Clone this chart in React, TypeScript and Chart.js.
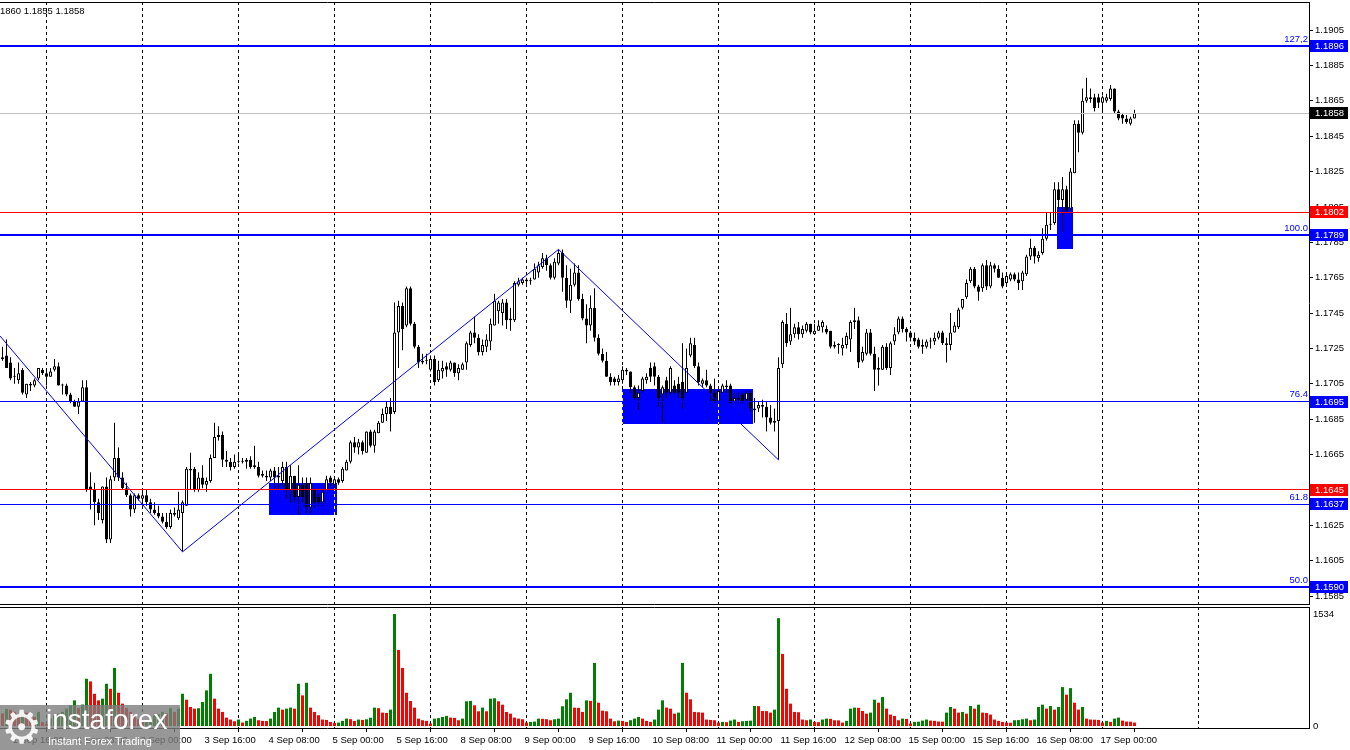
import React, { useEffect, useRef } from "react";
import { Chart, registerables } from "chart.js";

Chart.register(...registerables);

// ---------------- DATA (EURUSD H1, 1 Sep 13:00 .. 17 Sep 08:00) ----------------
const OPEN = [1.1719,1.1721,1.1717,1.1709,1.1707,1.1713,1.1699,1.1705,1.1704,1.1708,
1.1713,1.1711,1.1709,1.1713,1.1715,1.1704,1.1704,1.1699,1.1695,1.1692,
1.1695,1.1703,1.1647,1.1645,1.1638,1.1628,1.1647,1.1617,1.1652,1.1663,
1.1652,1.1646,1.1642,1.1634,1.1642,1.1640,1.1642,1.1638,1.1634,1.1632,
1.1630,1.1627,1.1624,1.1632,1.1629,1.1632,1.1636,1.1656,1.1657,1.1645,
1.1652,1.1648,1.1650,1.1663,1.1675,1.1676,1.1662,1.1661,1.1658,1.1661,
1.1661,1.1661,1.1662,1.1659,1.1658,1.1654,1.1653,1.1652,1.1656,1.1652,
1.1650,1.1658,1.1645,1.1653,1.1641,1.1648,1.1649,1.1635,1.1645,1.1641,
1.1638,1.1645,1.1652,1.1648,1.1651,1.1650,1.1656,1.1661,1.1672,1.1669,
1.1672,1.1666,1.1678,1.1670,1.1677,1.1683,1.1688,1.1692,1.1689,1.1734,
1.1749,1.1738,1.1759,1.1739,1.1726,1.1717,1.1718,1.1713,1.1719,1.1707,
1.1712,1.1715,1.1713,1.1717,1.1711,1.1713,1.1717,1.1727,1.1734,1.1731,
1.1723,1.1726,1.1729,1.1738,1.1746,1.1745,1.1751,1.1741,1.1741,1.1761,
1.1762,1.1764,1.1763,1.1764,1.1768,1.1771,1.1776,1.1772,1.1765,1.1773,
1.1779,1.1765,1.1752,1.1761,1.1768,1.1753,1.1742,1.1738,1.1748,1.1731,
1.1722,1.1718,1.1709,1.1708,1.1706,1.1707,1.1713,1.1712,1.1703,1.1697,
1.1701,1.1707,1.1714,1.1715,1.1709,1.1699,1.1707,1.1700,1.1704,1.1705,
1.1706,1.1700,1.1721,1.1727,1.1715,1.1705,1.1707,1.1704,1.1700,1.1695,
1.1700,1.1703,1.1704,1.1695,1.1697,1.1699,1.1696,1.1700,1.1690,1.1691,
1.1693,1.1692,1.1686,1.1684,1.1684,1.1716,1.1739,1.1729,1.1733,1.1737,
1.1733,1.1735,1.1739,1.1733,1.1735,1.1737,1.1736,1.1735,1.1726,1.1727,
1.1725,1.1727,1.1730,1.1740,1.1741,1.1718,1.1722,1.1734,1.1722,1.1713,
1.1713,1.1726,1.1714,1.1729,1.1734,1.1742,1.1736,1.1734,1.1731,1.1730,
1.1726,1.1726,1.1729,1.1729,1.1731,1.1734,1.1728,1.1727,1.1734,1.1737,
1.1748,1.1754,1.1763,1.1770,1.1760,1.1759,1.1772,1.1760,1.1772,1.1770,
1.1765,1.1762,1.1764,1.1767,1.1764,1.1763,1.1767,1.1777,1.1782,1.1776,
1.1779,1.1787,1.1795,1.1796,1.1815,1.1809,1.1815,1.1804,1.1824,1.1852,
1.1847,1.1865,1.1866,1.1867,1.1867,1.1864,1.1865,1.1866,1.1872,1.1859,
1.1857,1.1855,1.1852,1.1855];

const HIGH = [1.1726,1.1730,1.1720,1.1714,1.1717,1.1714,1.1705,1.1706,1.1708,1.1714,
1.1714,1.1714,1.1714,1.1719,1.1717,1.1705,1.1705,1.1700,1.1696,1.1697,
1.1707,1.1707,1.1655,1.1649,1.1640,1.1647,1.1652,1.1653,1.1683,1.1669,
1.1655,1.1649,1.1643,1.1643,1.1643,1.1645,1.1645,1.1640,1.1638,1.1636,
1.1632,1.1632,1.1634,1.1635,1.1644,1.1639,1.1658,1.1666,1.1658,1.1655,
1.1659,1.1652,1.1665,1.1683,1.1681,1.1678,1.1667,1.1663,1.1665,1.1665,
1.1663,1.1663,1.1664,1.1670,1.1661,1.1656,1.1656,1.1657,1.1658,1.1658,
1.1661,1.1661,1.1659,1.1653,1.1659,1.1652,1.1652,1.1652,1.1646,1.1643,
1.1645,1.1653,1.1653,1.1652,1.1652,1.1658,1.1662,1.1673,1.1675,1.1674,
1.1673,1.1678,1.1679,1.1679,1.1684,1.1691,1.1695,1.1697,1.1751,1.1752,
1.1751,1.1760,1.1760,1.1740,1.1727,1.1722,1.1722,1.1721,1.1721,1.1718,
1.1718,1.1717,1.1718,1.1717,1.1716,1.1717,1.1729,1.1735,1.1743,1.1733,
1.1730,1.1733,1.1742,1.1756,1.1752,1.1753,1.1753,1.1748,1.1763,1.1765,
1.1765,1.1765,1.1765,1.1773,1.1774,1.1779,1.1778,1.1773,1.1776,1.1781,
1.1781,1.1772,1.1770,1.1773,1.1772,1.1756,1.1750,1.1755,1.1759,1.1733,
1.1725,1.1723,1.1711,1.1709,1.1710,1.1715,1.1714,1.1712,1.1704,1.1704,
1.1709,1.1711,1.1717,1.1717,1.1710,1.1704,1.1709,1.1715,1.1707,1.1709,
1.1728,1.1725,1.1731,1.1731,1.1717,1.1708,1.1713,1.1705,1.1708,1.1703,
1.1705,1.1707,1.1705,1.1700,1.1700,1.1700,1.1701,1.1701,1.1697,1.1695,
1.1696,1.1695,1.1693,1.1691,1.1720,1.1741,1.1745,1.1748,1.1739,1.1740,
1.1738,1.1740,1.1739,1.1739,1.1741,1.1741,1.1738,1.1735,1.1729,1.1728,
1.1731,1.1734,1.1741,1.1748,1.1743,1.1726,1.1736,1.1736,1.1726,1.1720,
1.1727,1.1728,1.1729,1.1737,1.1743,1.1743,1.1737,1.1735,1.1734,1.1731,
1.1730,1.1730,1.1731,1.1734,1.1735,1.1735,1.1731,1.1745,1.1740,1.1748,
1.1753,1.1764,1.1771,1.1771,1.1761,1.1773,1.1775,1.1774,1.1773,1.1772,
1.1768,1.1768,1.1768,1.1768,1.1768,1.1769,1.1778,1.1787,1.1783,1.1780,
1.1793,1.1802,1.1802,1.1819,1.1819,1.1822,1.1817,1.1827,1.1854,1.1854,
1.1872,1.1878,1.1872,1.1869,1.1869,1.1868,1.1869,1.1874,1.1872,1.1860,
1.1858,1.1857,1.1856,1.1860];

const LOW = [1.1718,1.1714,1.1707,1.1705,1.1705,1.1699,1.1697,1.1701,1.1703,1.1707,
1.1710,1.1704,1.1709,1.1712,1.1704,1.1699,1.1698,1.1694,1.1692,1.1688,
1.1695,1.1644,1.1634,1.1625,1.1628,1.1626,1.1615,1.1615,1.1650,1.1650,
1.1645,1.1641,1.1630,1.1632,1.1639,1.1636,1.1636,1.1632,1.1631,1.1629,
1.1626,1.1623,1.1623,1.1630,1.1628,1.1610,1.1636,1.1645,1.1644,1.1644,
1.1646,1.1644,1.1649,1.1663,1.1673,1.1658,1.1658,1.1656,1.1657,1.1660,
1.1660,1.1657,1.1657,1.1657,1.1652,1.1652,1.1650,1.1650,1.1645,1.1645,
1.1647,1.1640,1.1638,1.1638,1.1631,1.1638,1.1632,1.1632,1.1635,1.1636,
1.1636,1.1645,1.1647,1.1646,1.1648,1.1649,1.1656,1.1660,1.1666,1.1665,
1.1665,1.1666,1.1669,1.1666,1.1677,1.1683,1.1684,1.1678,1.1688,1.1714,
1.1724,1.1737,1.1738,1.1725,1.1714,1.1716,1.1716,1.1712,1.1704,1.1706,
1.1708,1.1709,1.1712,1.1709,1.1707,1.1713,1.1713,1.1726,1.1728,1.1721,
1.1721,1.1723,1.1724,1.1738,1.1739,1.1738,1.1736,1.1735,1.1740,1.1760,
1.1761,1.1760,1.1761,1.1764,1.1765,1.1770,1.1769,1.1764,1.1764,1.1772,
1.1757,1.1748,1.1745,1.1760,1.1752,1.1741,1.1728,1.1735,1.1729,1.1721,
1.1717,1.1709,1.1704,1.1704,1.1704,1.1705,1.1710,1.1700,1.1696,1.1690,
1.1700,1.1705,1.1706,1.1704,1.1692,1.1683,1.1697,1.1699,1.1699,1.1697,
1.1691,1.1700,1.1720,1.1714,1.1704,1.1703,1.1703,1.1695,1.1694,1.1694,
1.1700,1.1700,1.1694,1.1694,1.1694,1.1694,1.1695,1.1689,1.1683,1.1689,
1.1686,1.1678,1.1682,1.1678,1.1662,1.1714,1.1726,1.1727,1.1731,1.1730,
1.1731,1.1734,1.1733,1.1733,1.1735,1.1734,1.1733,1.1725,1.1725,1.1722,
1.1721,1.1725,1.1723,1.1736,1.1714,1.1717,1.1721,1.1721,1.1701,1.1704,
1.1713,1.1713,1.1710,1.1727,1.1733,1.1734,1.1729,1.1729,1.1727,1.1725,
1.1722,1.1725,1.1725,1.1727,1.1730,1.1727,1.1717,1.1724,1.1734,1.1736,
1.1747,1.1753,1.1762,1.1759,1.1752,1.1757,1.1758,1.1759,1.1768,1.1765,
1.1759,1.1760,1.1763,1.1763,1.1758,1.1758,1.1766,1.1775,1.1773,1.1774,
1.1778,1.1786,1.1792,1.1795,1.1804,1.1791,1.1802,1.1803,1.1824,1.1836,
1.1846,1.1864,1.1864,1.1859,1.1861,1.1858,1.1864,1.1865,1.1858,1.1854,
1.1852,1.1852,1.1851,1.1855];

const CLOSE = [1.1720,1.1714,1.1708,1.1709,1.1711,1.1700,1.1705,1.1704,1.1707,1.1714,
1.1711,1.1709,1.1712,1.1715,1.1704,1.1704,1.1699,1.1695,1.1692,1.1695,
1.1703,1.1645,1.1645,1.1638,1.1632,1.1647,1.1617,1.1651,1.1663,1.1652,
1.1646,1.1642,1.1634,1.1642,1.1640,1.1642,1.1638,1.1634,1.1632,1.1630,
1.1627,1.1624,1.1632,1.1631,1.1634,1.1638,1.1657,1.1657,1.1645,1.1652,
1.1648,1.1650,1.1663,1.1675,1.1676,1.1662,1.1661,1.1658,1.1661,1.1661,
1.1661,1.1662,1.1658,1.1658,1.1653,1.1653,1.1652,1.1656,1.1652,1.1653,
1.1658,1.1645,1.1653,1.1641,1.1648,1.1641,1.1635,1.1649,1.1638,1.1638,
1.1644,1.1651,1.1649,1.1651,1.1649,1.1657,1.1661,1.1672,1.1669,1.1672,
1.1667,1.1678,1.1670,1.1678,1.1683,1.1688,1.1692,1.1688,1.1734,1.1749,
1.1736,1.1759,1.1739,1.1726,1.1717,1.1718,1.1718,1.1719,1.1706,1.1713,
1.1714,1.1713,1.1717,1.1711,1.1714,1.1716,1.1728,1.1734,1.1731,1.1723,
1.1727,1.1730,1.1739,1.1752,1.1751,1.1751,1.1741,1.1742,1.1762,1.1763,
1.1764,1.1763,1.1763,1.1770,1.1772,1.1776,1.1772,1.1765,1.1774,1.1779,
1.1765,1.1752,1.1761,1.1768,1.1753,1.1742,1.1738,1.1748,1.1731,1.1722,
1.1718,1.1709,1.1706,1.1706,1.1708,1.1713,1.1712,1.1703,1.1697,1.1700,
1.1708,1.1709,1.1709,1.1709,1.1697,1.1703,1.1700,1.1714,1.1700,1.1700,
1.1697,1.1714,1.1728,1.1715,1.1706,1.1707,1.1704,1.1700,1.1695,1.1701,
1.1704,1.1704,1.1694,1.1697,1.1696,1.1695,1.1700,1.1691,1.1691,1.1693,
1.1692,1.1686,1.1683,1.1683,1.1714,1.1740,1.1728,1.1733,1.1737,1.1733,
1.1736,1.1739,1.1734,1.1735,1.1738,1.1740,1.1734,1.1726,1.1727,1.1727,
1.1727,1.1732,1.1740,1.1741,1.1717,1.1723,1.1734,1.1722,1.1713,1.1714,
1.1726,1.1714,1.1728,1.1733,1.1742,1.1736,1.1734,1.1731,1.1729,1.1726,
1.1727,1.1729,1.1729,1.1731,1.1734,1.1728,1.1727,1.1734,1.1738,1.1747,
1.1753,1.1762,1.1770,1.1760,1.1757,1.1772,1.1760,1.1772,1.1770,1.1765,
1.1760,1.1766,1.1767,1.1764,1.1762,1.1768,1.1777,1.1782,1.1777,1.1778,
1.1787,1.1795,1.1795,1.1815,1.1809,1.1815,1.1803,1.1825,1.1852,1.1847,
1.1865,1.1867,1.1867,1.1861,1.1864,1.1867,1.1867,1.1872,1.1859,1.1855,
1.1855,1.1853,1.1855,1.1858];

const VOLUME = [180,240,230,200,150,220,190,160,130,200,
60,40,108,150,176,200,244,290,357,250,
300,651,615,447,357,380,583,515,800,461,
312,250,200,150,100,60,80,120,150,170,
200,180,250,200,244,447,366,267,244,250,
334,493,719,380,244,199,122,95,72,95,
54,77,108,131,86,77,75,108,199,258,
231,244,258,244,583,425,597,258,199,154,
95,90,63,50,54,77,108,100,77,95,
90,99,120,258,250,190,185,231,1534,1044,
800,461,348,258,108,86,77,41,108,115,
131,145,122,118,86,108,344,350,289,208,
258,208,380,385,344,298,199,176,122,108,
99,54,63,68,108,105,100,86,99,108,
276,371,461,258,255,199,357,350,868,325,
217,208,108,72,81,77,63,86,108,131,
108,77,63,95,231,357,258,244,176,190,
868,461,371,199,195,190,95,90,86,54,
63,60,81,95,63,72,77,80,280,278,
212,210,190,231,1478,990,515,312,199,195,
95,86,95,63,60,95,108,105,86,84,
54,77,244,258,255,212,176,190,366,325,
402,244,163,145,86,108,104,41,63,66,
81,95,81,78,68,66,190,267,244,190,
199,176,280,244,298,190,185,163,95,77,
63,54,52,86,88,99,108,86,95,267,
298,244,280,231,267,538,434,524,325,231,
267,108,95,93,90,54,77,63,108,122,
81,68,66,54];

const PRICE_TICKS = [1.1585,1.1605,1.1625,1.1645,1.1665,1.1685,1.1705,1.1725,1.1745,1.1765,1.1785,1.1805,1.1825,1.1845,1.1865,1.1885,1.1905];
const VOLUME_TICKS = [0, 1534];

const TIME_LABEL_BARS = [3,19,35,51,67,83,99,115,131,147,163,179,195,211,227,243,259,275];
const TIME_LABELS = ["1 Sep 16:00","2 Sep 08:00","3 Sep 00:00","3 Sep 16:00","4 Sep 08:00","5 Sep 00:00","5 Sep 16:00","8 Sep 08:00","9 Sep 00:00","9 Sep 16:00","10 Sep 08:00","11 Sep 00:00","11 Sep 16:00","12 Sep 08:00","15 Sep 00:00","15 Sep 16:00","16 Sep 08:00","17 Sep 00:00"];
const DAY_START_BARS = [11,35,59,83,107,131,155,179,203,227,251,275,299];

const FIB_LEVELS = [1.1896, 1.1789, 1.1695, 1.1637, 1.1590];
const FIB_NAMES = ["127,2", "100.0", "76.4", "61.8", "50.0"];
const SR_LEVELS = [1.1802, 1.1645];
const LAST_PRICE = 1.1858;

const ZIGZAG_BARS = [-0.6, 45, 139, 194];
const ZIGZAG_PRICES = [1.1732, 1.1610, 1.1781, 1.1662];

const ZONE_START = [66.6, 154.8, 263.7];
const ZONE_END = [83.5, 187.6, 267.6];
const ZONE_HIGH = [1.1649, 1.1702, 1.1805];
const ZONE_LOW = [1.1631, 1.1682, 1.1781];

const HEADER_TEXT = "1860 1.1855 1.1858";

// ---------------- STYLE ----------------
const FONT = "'Liberation Sans', Arial, sans-serif";
const FONT_SIZE = 9.5;
const X_MIN = -0.625;
const X_MAX = 326.625;
const FIB_LINE_WIDTHS = [2, 2, 1, 1, 2];
const BLUE = "#0000ff";
const RED = "#ff0000";

Chart.defaults.font.family = FONT;
Chart.defaults.font.size = FONT_SIZE;

const whiteBg = {
  id: "whiteBg",
  beforeDraw(chart: any) {
    const c = chart.ctx;
    c.save();
    c.fillStyle = "#ffffff";
    c.fillRect(0, 0, chart.width, chart.height);
    c.restore();
  },
};

function clipArea(chart: any) {
  const a = chart.chartArea;
  chart.ctx.beginPath();
  chart.ctx.rect(a.left, a.top, a.right - a.left, a.bottom - a.top);
  chart.ctx.clip();
}

function drawDayGrid(chart: any) {
  const ctx = chart.ctx;
  const a = chart.chartArea;
  const xs = chart.scales.x;
  ctx.save();
  clipArea(chart);
  ctx.globalCompositeOperation = "difference";
  ctx.strokeStyle = "#ffffff";
  ctx.lineWidth = 1;
  ctx.setLineDash([3, 3]);
  DAY_START_BARS.forEach((b) => {
    const px = Math.floor(xs.getPixelForValue(b)) + 0.5;
    ctx.beginPath();
    ctx.moveTo(px, a.top);
    ctx.lineTo(px, a.bottom);
    ctx.stroke();
  });
  ctx.restore();
}

const mainDecor = {
  id: "mainDecor",
  beforeDatasetsDraw(chart: any) {
    const ctx = chart.ctx;
    const xs = chart.scales.x;
    const ys = chart.scales.y;
    ctx.save();
    clipArea(chart);
    ctx.fillStyle = BLUE;
    ZONE_START.forEach((s, k) => {
      const x0 = Math.round(xs.getPixelForValue(s));
      const x1 = Math.round(xs.getPixelForValue(ZONE_END[k]));
      const y0 = Math.round(ys.getPixelForValue(ZONE_HIGH[k]));
      const y1 = Math.round(ys.getPixelForValue(ZONE_LOW[k]));
      ctx.fillRect(x0, y0, x1 - x0, y1 - y0);
    });
    ctx.restore();
    drawDayGrid(chart);
  },
  afterDatasetsDraw(chart: any) {
    const ctx = chart.ctx;
    const a = chart.chartArea;
    const ys = chart.scales.y;
    const w = a.right - a.left;
    ctx.save();
    clipArea(chart);
    const hline = (p: number, color: string, lw: number) => {
      const py = ys.getPixelForValue(p);
      ctx.fillStyle = color;
      if (lw === 2) ctx.fillRect(a.left, Math.round(py) - 1, w, 2);
      else ctx.fillRect(a.left, Math.round(py - 0.5), w, 1);
    };
    hline(LAST_PRICE, "#c0c0c0", 1);
    SR_LEVELS.forEach((p) => hline(p, RED, 1));
    FIB_LEVELS.forEach((p, k) => hline(p, BLUE, FIB_LINE_WIDTHS[k]));
    ctx.font = FONT_SIZE + "px " + FONT;
    ctx.fillStyle = BLUE;
    ctx.textAlign = "right";
    ctx.textBaseline = "middle";
    FIB_LEVELS.forEach((p, k) => {
      const py = ys.getPixelForValue(p);
      ctx.fillText(FIB_NAMES[k], a.right - 1, py - 7);
    });
    ctx.restore();
  },
  afterDraw(chart: any) {
    const ctx = chart.ctx;
    const a = chart.chartArea;
    const ys = chart.scales.y;
    ctx.save();
    ctx.strokeStyle = "#000000";
    ctx.lineWidth = 1;
    ctx.beginPath();
    ctx.moveTo(a.left, Math.floor(a.top) + 0.5);
    ctx.lineTo(a.right + 0.5, Math.floor(a.top) + 0.5);
    ctx.moveTo(a.left, Math.floor(a.bottom) + 0.5);
    ctx.lineTo(a.right + 0.5, Math.floor(a.bottom) + 0.5);
    ctx.stroke();
    ctx.font = FONT_SIZE + "px " + FONT;
    ctx.textBaseline = "middle";
    ctx.textAlign = "left";
    const box = (p: number, bg: string) => {
      const py = Math.round(ys.getPixelForValue(p));
      ctx.fillStyle = bg;
      ctx.fillRect(a.right + 1, py - 6, 38, 12);
      ctx.fillStyle = "#ffffff";
      ctx.fillText(p.toFixed(4), a.right + 6, py);
    };
    FIB_LEVELS.forEach((p) => box(p, BLUE));
    SR_LEVELS.forEach((p) => box(p, RED));
    box(LAST_PRICE, "#000000");
    ctx.fillStyle = "#000000";
    ctx.fillText(HEADER_TEXT, 0, 11);
    ctx.restore();
  },
};

const volDecor = {
  id: "volDecor",
  beforeDatasetsDraw(chart: any) {
    drawDayGrid(chart);
  },
  afterDraw(chart: any) {
    const ctx = chart.ctx;
    const a = chart.chartArea;
    ctx.save();
    ctx.strokeStyle = "#000000";
    ctx.lineWidth = 1;
    ctx.beginPath();
    ctx.moveTo(a.left, Math.floor(a.top) + 0.5);
    ctx.lineTo(a.right + 0.5, Math.floor(a.top) + 0.5);
    ctx.stroke();
    ctx.restore();
  },
};

const zeroPad = (s: any) => {
  s.paddingTop = 0;
  s.paddingBottom = 0;
  s.paddingLeft = 0;
  s.paddingRight = 0;
};

export default function App() {
  const mainRef = useRef<HTMLCanvasElement>(null);
  const volRef = useRef<HTMLCanvasElement>(null);

  useEffect(() => {
    const candleBodies = OPEN.map((o, i) => ({ x: i, y: [o, CLOSE[i]] }));
    const wicks = LOW.map((l, i) => ({ x: i, y: [l, HIGH[i]] }));
    const zigzag = ZIGZAG_BARS.map((b, i) => ({ x: b, y: ZIGZAG_PRICES[i] }));

    const main = new Chart(mainRef.current as HTMLCanvasElement, {
      type: "bar",
      data: {
        datasets: [
          {
            type: "line",
            data: zigzag,
            borderColor: BLUE,
            borderWidth: 1,
            pointRadius: 0,
            tension: 0,
            order: 0,
          } as any,
          {
            type: "bar",
            data: candleBodies,
            backgroundColor: OPEN.map((o, i) => (CLOSE[i] >= o ? "#ffffff" : "#000000")),
            borderColor: "#000000",
            borderWidth: 1,
            borderSkipped: false,
            barThickness: 3,
            minBarLength: 1,
            grouped: false,
            inflateAmount: 0,
            order: 1,
          } as any,
          {
            type: "bar",
            data: wicks,
            backgroundColor: "#000000",
            borderWidth: 0,
            barThickness: 1,
            grouped: false,
            inflateAmount: 0,
            order: 2,
          } as any,
        ],
      },
      options: {
        animation: false,
        responsive: false,
        maintainAspectRatio: false,
        events: [],
        layout: { padding: { top: 2, bottom: 2, left: 0, right: 0 } },
        plugins: { legend: { display: false }, tooltip: { enabled: false } },
        scales: {
          x: { type: "linear", min: X_MIN, max: X_MAX, display: false, offset: false },
          y: {
            position: "right",
            min: 1.15805,
            max: 1.19209,
            afterBuildTicks: (s: any) => {
              s.ticks = PRICE_TICKS.map((v) => ({ value: v }));
            },
            afterFit: (s: any) => {
              s.width = 41;
              zeroPad(s);
            },
            ticks: {
              autoSkip: false,
              padding: 2,
              color: "#000000",
              font: { family: FONT, size: FONT_SIZE },
              callback: (v: any) => Number(v).toFixed(4),
            },
            grid: { drawOnChartArea: false, drawTicks: true, tickLength: 4, color: "#000000" },
            border: { display: true, color: "#000000", width: 1 },
          },
        },
      } as any,
      plugins: [whiteBg, mainDecor],
    });

    const vol = new Chart(volRef.current as HTMLCanvasElement, {
      type: "bar",
      data: {
        datasets: [
          {
            data: VOLUME.map((v, i) => ({ x: i, y: v })),
            backgroundColor: VOLUME.map((v, i) => (i > 0 && v > VOLUME[i - 1] ? "#008000" : "#ff0000")),
            borderWidth: 0,
            barThickness: 3,
            grouped: false,
            inflateAmount: 0,
          } as any,
        ],
      },
      options: {
        animation: false,
        responsive: false,
        maintainAspectRatio: false,
        events: [],
        layout: { padding: { top: 1, bottom: 0, left: 0, right: 0 } },
        plugins: { legend: { display: false }, tooltip: { enabled: false } },
        scales: {
          x: {
            type: "linear",
            min: X_MIN,
            max: X_MAX,
            offset: false,
            position: "bottom",
            afterBuildTicks: (s: any) => {
              s.ticks = TIME_LABEL_BARS.map((v) => ({ value: v }));
            },
            afterFit: (s: any) => {
              s.height = 22;
              zeroPad(s);
            },
            ticks: {
              autoSkip: false,
              maxRotation: 0,
              minRotation: 0,
              align: "start",
              labelOffset: -2,
              padding: 3,
              color: "#000000",
              font: { family: FONT, size: FONT_SIZE },
              callback: (_v: any, idx: number) => TIME_LABELS[idx],
            },
            grid: { drawOnChartArea: false, drawTicks: true, tickLength: 4, color: "#000000" },
            border: { display: true, color: "#000000", width: 1 },
          },
          y: {
            position: "right",
            min: -20,
            max: 1630,
            afterBuildTicks: (s: any) => {
              s.ticks = VOLUME_TICKS.map((v) => ({ value: v }));
            },
            afterFit: (s: any) => {
              s.width = 41;
              zeroPad(s);
            },
            ticks: {
              autoSkip: false,
              padding: 4,
              color: "#000000",
              font: { family: FONT, size: FONT_SIZE },
              callback: (v: any) => String(v),
            },
            grid: { drawOnChartArea: false, drawTicks: false },
            border: { display: true, color: "#000000", width: 1 },
          },
        },
      } as any,
      plugins: [whiteBg, volDecor],
    });

    return () => {
      main.destroy();
      vol.destroy();
    };
  }, []);

  return (
    <div
      style={{
        position: "fixed",
        left: 0,
        top: 0,
        width: 1350,
        height: 750,
        background: "#ffffff",
        overflow: "hidden",
      }}
    >
      <canvas
        ref={mainRef}
        width={1350}
        height={606}
        style={{ position: "absolute", left: 0, top: 0, width: 1350, height: 606 }}
      />
      <canvas
        ref={volRef}
        width={1350}
        height={144}
        style={{ position: "absolute", left: 0, top: 606, width: 1350, height: 144 }}
      />
      <div
        style={{
          position: "absolute",
          left: 0,
          top: 705,
          width: 180,
          height: 45,
          background: "rgba(125,125,125,0.8)",
          color: "#ffffff",
          overflow: "hidden",
        }}
      >
        <span
          style={{
            position: "absolute",
            left: 1,
            top: -3,
            fontFamily: "'DejaVu Sans', sans-serif",
            fontSize: 46,
            lineHeight: "50px",
            color: "rgba(255,255,255,0.9)",
          }}
        >
          ⚙
        </span>
        <span
          style={{
            position: "absolute",
            left: 46,
            top: 0,
            fontFamily: "'Liberation Sans', Arial, sans-serif",
            fontSize: 28,
            lineHeight: "30px",
          }}
        >
          instaforex
        </span>
        <span
          style={{
            position: "absolute",
            left: 48,
            top: 29,
            fontFamily: "'Liberation Sans', Arial, sans-serif",
            fontSize: 11,
            lineHeight: "15px",
          }}
        >
          Instant Forex Trading
        </span>
      </div>
    </div>
  );
}
